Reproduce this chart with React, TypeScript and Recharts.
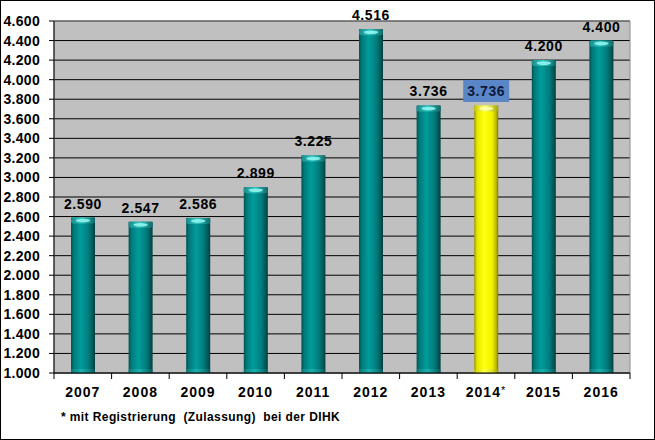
import React from 'react';
import {
  BarChart,
  Bar,
  XAxis,
  YAxis,
  CartesianGrid,
  LabelList,
  ReferenceArea,
} from 'recharts';

// Registered members per year
const years = ['2007', '2008', '2009', '2010', '2011', '2012', '2013', '2014*', '2015', '2016'];
const members = [2590, 2547, 2586, 2899, 3225, 4516, 3736, 3736, 4200, 4400];
const highlightYear = '2014*';
const yTicks = [1000, 1200, 1400, 1600, 1800, 2000, 2200, 2400, 2600, 2800, 3000, 3200, 3400, 3600, 3800, 4000, 4200, 4400, 4600];
const footnote = '* mit Registrierung  (Zulassung)  bei der DIHK';

const data = years.map((year, i) => ({ year, value: members[i] }));

const W = 655;
const H = 440;
const FONT = '"Liberation Sans", Arial, sans-serif';
const PLOT_LEFT = 54;
const PLOT_RIGHT = 630;
const BAND = (PLOT_RIGHT - PLOT_LEFT) / years.length;

const fmt = (v: number) => {
  const s = String(Math.round(v));
  return s.replace(/\B(?=(\d{3})+(?!\d))/g, '.');
};

const CylinderBar = (props: any) => {
  const { x, y, width, height, payload } = props;
  if (!height || height <= 0) return null;
  const hi = payload.year === highlightYear;
  const body = hi ? 'url(#gYellow)' : 'url(#gTeal)';
  const cap = hi ? 'url(#gYellowCap)' : 'url(#gTealCap)';
  const shine = hi ? '#ffffb0' : '#8ff5f0';
  return (
    <g>
      <rect x={x} y={y} width={width} height={height} fill={body} />
      <rect x={x} y={y} width={width} height={6} fill={cap} rx={2} />
      <ellipse cx={x + width / 2} cy={y + 3} rx={width * 0.3} ry={1.8} fill={shine} opacity={0.9} />
      <rect x={x} y={y + height - 4} width={width} height={4} fill={cap} opacity={0.5} />
    </g>
  );
};

const ValueLabel = (props: any) => {
  const { x, y, width, value, index } = props;
  const cx = x + width / 2;
  const isHi = years[index] === highlightYear;
  return (
    <g>
      {isHi && <rect x={cx - 23} y={y - 25.5} width={46} height={22} fill="#5a85c6" />}
      <text
        x={cx}
        y={y - 9}
        textAnchor="middle"
        fontFamily={FONT}
        fontWeight="bold"
        fontSize={14}
        letterSpacing={0.6}
        fill={isHi ? '#0d1a3a' : '#000'}
      >
        {fmt(value)}
      </text>
    </g>
  );
};

const XTick = (props: any) => {
  const { x, y, payload, index } = props;
  const top = y;
  const isLast = index === years.length - 1;
  const label = String(payload.value);
  const star = label.endsWith('*');
  return (
    <g>
      <line x1={x - BAND / 2} y1={top} x2={x - BAND / 2} y2={top + 6} stroke="#000" />
      {isLast && <line x1={x + BAND / 2} y1={top} x2={x + BAND / 2} y2={top + 6} stroke="#000" />}
      <text
        x={x}
        y={top + 24}
        textAnchor="middle"
        fontFamily={FONT}
        fontWeight="bold"
        fontSize={14}
        letterSpacing={1}
        fill="#000"
      >
        {star ? label.slice(0, -1) : label}
        {star && (
          <tspan fontWeight="normal" fontSize={11} dy={-3}>
            *
          </tspan>
        )}
      </text>
    </g>
  );
};

export default function App() {
  return (
    <div style={{ position: 'absolute', left: 0, top: 0, width: W, height: H, background: '#fff' }}>
      <BarChart
        width={W}
        height={H}
        data={data}
        margin={{ top: 21, right: W - PLOT_RIGHT, bottom: 37, left: 0 }}
        barSize={24}
      >
        <defs>
          <linearGradient id="gTeal" x1="0" y1="0" x2="1" y2="0">
            <stop offset="0%" stopColor="#005252" />
            <stop offset="12%" stopColor="#007a7a" />
            <stop offset="40%" stopColor="#009c9a" />
            <stop offset="70%" stopColor="#008080" />
            <stop offset="90%" stopColor="#005a5a" />
            <stop offset="100%" stopColor="#003c3c" />
          </linearGradient>
          <linearGradient id="gTealCap" x1="0" y1="0" x2="1" y2="0">
            <stop offset="0%" stopColor="#1a8a8a" />
            <stop offset="45%" stopColor="#30c4c0" />
            <stop offset="100%" stopColor="#0f6a6a" />
          </linearGradient>
          <linearGradient id="gYellow" x1="0" y1="0" x2="1" y2="0">
            <stop offset="0%" stopColor="#9a9a00" />
            <stop offset="12%" stopColor="#e6e600" />
            <stop offset="40%" stopColor="#ffff10" />
            <stop offset="75%" stopColor="#f2f200" />
            <stop offset="92%" stopColor="#b5b500" />
            <stop offset="100%" stopColor="#7a7a00" />
          </linearGradient>
          <linearGradient id="gYellowCap" x1="0" y1="0" x2="1" y2="0">
            <stop offset="0%" stopColor="#c8c800" />
            <stop offset="45%" stopColor="#ffff70" />
            <stop offset="100%" stopColor="#a8a800" />
          </linearGradient>
        </defs>
        <CartesianGrid vertical={false} stroke="#000" fill="#c0c0c0" fillOpacity={1} />
        <ReferenceArea y1={1000} y2={4600} fill="none" stroke="#8c8c8c" strokeWidth={1} ifOverflow="visible" />
        <XAxis
          dataKey="year"
          axisLine={{ stroke: '#000' }}
          tickLine={false}
          tickSize={0}
          tickMargin={0}
          height={30}
          interval={0}
          tick={<XTick />}
        />
        <YAxis
          domain={[1000, 4600]}
          ticks={yTicks}
          interval={0}
          width={PLOT_LEFT}
          axisLine={{ stroke: '#000' }}
          tickLine={{ stroke: '#000' }}
          tickSize={5}
          tickMargin={9}
          tickFormatter={fmt}
          tick={{ fontFamily: FONT, fontWeight: 'bold', fontSize: 14, fill: '#000', letterSpacing: 0.3 }}
          allowDataOverflow
        />
        <Bar dataKey="value" shape={<CylinderBar />} isAnimationActive={false}>
          <LabelList dataKey="value" content={<ValueLabel />} />
        </Bar>
      </BarChart>
      <div
        style={{
          position: 'absolute',
          left: 61,
          top: 410,
          fontFamily: FONT,
          fontWeight: 'bold',
          fontSize: 12,
          letterSpacing: 0.4,
          whiteSpace: 'pre',
          color: '#000',
          lineHeight: '14px',
        }}
      >
        {footnote}
      </div>
      <div
        style={{
          position: 'absolute',
          left: 0,
          top: 0,
          width: W,
          height: H,
          boxSizing: 'border-box',
          border: '1px solid #000',
          pointerEvents: 'none',
        }}
      />
    </div>
  );
}
